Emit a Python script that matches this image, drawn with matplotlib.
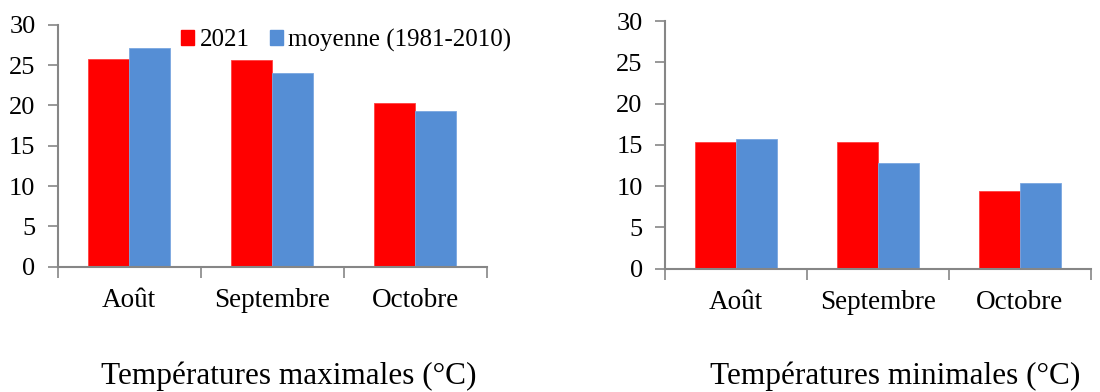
import numpy as np
import matplotlib
matplotlib.use('Agg')
import matplotlib.pyplot as plt
from matplotlib.patches import Patch

# Monthly temperatures (deg C), 2021 vs 1981-2010 normal
months = ['Août', 'Septembre', 'Octobre']
tmax_2021 = [25.8, 25.6, 20.3]
tmax_normal = [27.1, 24.0, 19.3]
tmin_2021 = [15.4, 15.4, 9.4]
tmin_normal = [15.7, 12.8, 10.4]
series_labels = ['2021', 'moyenne (1981-2010)']
titles = ['Températures maximales (°C)', 'Températures minimales (°C)']
y_ticks = [0, 5, 10, 15, 20, 25, 30]

red = '#FF0000'
blue = '#558ED5'
axis_grey = '#868686'

plt.rcParams['font.family'] = ['Liberation Serif', 'DejaVu Serif']


def draw_panel(ax, values_2021, values_normal):
    """Draw one grouped bar panel in the Excel-like style of the reference."""
    x = np.arange(len(months))
    width = 0.287
    ax.bar(x - width / 2, values_2021, width, color=red, edgecolor='#FF4040',
           linewidth=0.6)
    ax.bar(x + width / 2, values_normal, width, color=blue, edgecolor='#7AA6E0',
           linewidth=0.6)
    ax.set_xlim(-0.5, len(months) - 0.5)
    ax.set_ylim(0, 30)
    ax.set_yticks(y_ticks)
    # major ticks at category boundaries, labels on minor ticks at centres
    ax.set_xticks(np.arange(len(months) + 1) - 0.5)
    ax.set_xticklabels([])
    ax.set_xticks(x, minor=True)
    ax.set_xticklabels(months, minor=True)
    ax.tick_params(axis='x', which='minor', length=0, pad=15, labelsize=19.5)
    ax.tick_params(axis='x', which='major', length=8, width=1.2,
                   color=axis_grey, direction='out')
    ax.tick_params(axis='y', length=7, width=1.2, color=axis_grey,
                   labelsize=19, pad=9)
    for side in ['top', 'right']:
        ax.spines[side].set_visible(False)
    for side in ['left', 'bottom']:
        ax.spines[side].set_color(axis_grey)
        ax.spines[side].set_linewidth(1.5)


fig = plt.figure(figsize=(11, 3.92), dpi=100)
ax_max = fig.add_axes([0.0525, 0.3197, 0.3902, 0.6173])
ax_min = fig.add_axes([0.6045, 0.3145, 0.3873, 0.6319])
draw_panel(ax_max, tmax_2021, tmax_normal)
draw_panel(ax_min, tmin_2021, tmin_normal)

handles = [Patch(color=red), Patch(color=blue)]
fig.legend(handles, series_labels, loc='center left',
           bbox_to_anchor=(181 / 1100, 1 - 40 / 392), ncol=2, frameon=False,
           fontsize=18, borderpad=0, borderaxespad=0, handlelength=0.52,
           handleheight=0.52, handletextpad=0.22, columnspacing=0.8)

fig.text(289 / 1100, 1 - 376 / 392, titles[0], ha='center', va='center',
         fontsize=22.5)
fig.text(895 / 1100, 1 - 376 / 392, titles[1], ha='center', va='center',
         fontsize=22.5)

fig.savefig('out.png', dpi=100)
